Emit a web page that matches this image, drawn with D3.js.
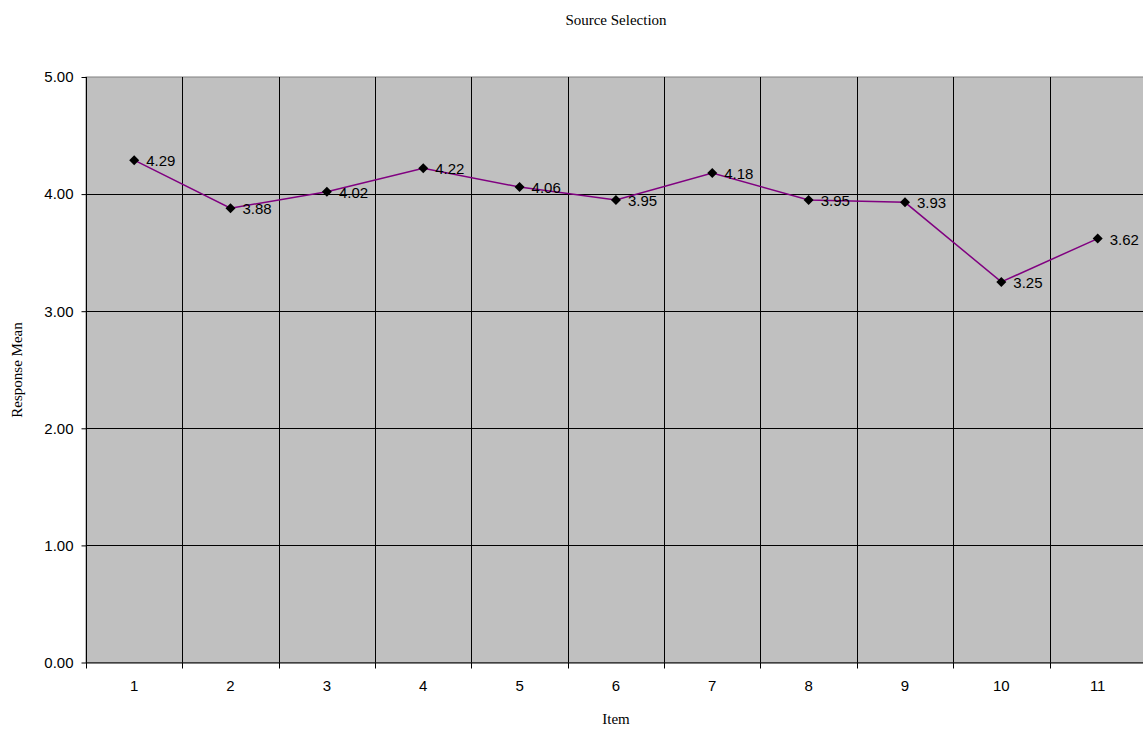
<!DOCTYPE html>
<html>
<head>
<meta charset="utf-8">
<script src="https://cdn.jsdelivr.net/npm/d3@7"></script>
<style>
  html, body { margin: 0; padding: 0; background: #fff; }
  svg { display: block; }
</style>
</head>
<body>
<svg id="chart" width="1143" height="733"></svg>
<script>
const items = ["1","2","3","4","5","6","7","8","9","10","11"];
const means = [4.29, 3.88, 4.02, 4.22, 4.06, 3.95, 4.18, 3.95, 3.93, 3.25, 3.62];
const yTicks = [0, 1, 2, 3, 4, 5];
const chartTitle = "Source Selection";
const xTitle = "Item";
const yTitle = "Response Mean";

(function () {
const svg = d3.select("#chart");
const pL = 86, pT = 77, pB = 662.5, bandW = 96.35;
const pR = pL + bandW * items.length;

const x = d3.scaleBand().domain(items).range([pL, pR]).padding(0);
const y = d3.scaleLinear().domain([0, 5]).range([pB, pT]);

// plot background
svg.append("rect")
  .attr("x", pL).attr("y", pT)
  .attr("width", pR - pL).attr("height", pB - pT)
  .attr("fill", "#c0c0c0")
  .attr("stroke", "#808080").attr("stroke-width", 1);

// horizontal gridlines
svg.append("g").selectAll("line").data(yTicks.filter(d => d > 0 && d < 5)).join("line")
  .attr("x1", pL).attr("x2", pR)
  .attr("y1", d => Math.round(y(d)) + 0.5).attr("y2", d => Math.round(y(d)) + 0.5)
  .attr("stroke", "#000").attr("stroke-width", 1);

// vertical gridlines at category boundaries
svg.append("g").selectAll("line").data(items.slice(1)).join("line")
  .attr("x1", d => Math.round(x(d)) + 0.5).attr("x2", d => Math.round(x(d)) + 0.5)
  .attr("y1", pT).attr("y2", pB)
  .attr("stroke", "#000").attr("stroke-width", 1);

// y axis
const yAxis = d3.axisLeft(y).tickValues(yTicks).tickFormat(d3.format(".2f")).tickSize(5).tickPadding(8);
const gy = svg.append("g").attr("transform", `translate(${pL + 0.5},0)`).call(yAxis);
gy.select(".domain").attr("stroke", "#000").attr("d", `M0,${pT}V${pB}`);
gy.selectAll(".tick line").attr("stroke", "#000");
gy.selectAll(".tick text").attr("font-family", "Arial, 'Liberation Sans', sans-serif").attr("font-size", 15).attr("fill", "#000");

// x axis (ticks at category boundaries)
const gx = svg.append("g").attr("transform", `translate(0,${pB})`);
gx.append("line").attr("x1", pL).attr("x2", pR).attr("y1", 0.5).attr("y2", 0.5).attr("stroke", "#000");
gx.selectAll("line.tk").data(items).join("line").attr("class", "tk")
  .attr("x1", d => Math.round(x(d)) + 0.5).attr("x2", d => Math.round(x(d)) + 0.5)
  .attr("y1", 0).attr("y2", 6).attr("stroke", "#000");
gx.selectAll("text").data(items).join("text")
  .attr("x", d => x(d) + x.bandwidth() / 2)
  .attr("y", 28)
  .attr("text-anchor", "middle")
  .attr("font-family", "Arial, 'Liberation Sans', sans-serif").attr("font-size", 15)
  .text(d => d);

// line
const line = d3.line().x((d, i) => x(items[i]) + x.bandwidth() / 2).y(d => y(d));
svg.append("path").datum(means)
  .attr("d", line).attr("fill", "none")
  .attr("stroke", "#800080").attr("stroke-width", 1.5);

// markers
svg.append("g").selectAll("path").data(means).join("path")
  .attr("transform", (d, i) => `translate(${x(items[i]) + x.bandwidth() / 2},${y(d)})`)
  .attr("d", "M0,-5L5,0L0,5L-5,0Z")
  .attr("fill", "#000");

// data labels
svg.append("g").selectAll("text").data(means).join("text")
  .attr("x", (d, i) => x(items[i]) + x.bandwidth() / 2 + 12)
  .attr("y", d => y(d) + 6)
  .attr("font-family", "Arial, 'Liberation Sans', sans-serif").attr("font-size", 15)
  .attr("fill", "#000")
  .text(d => d.toFixed(2));

// titles
svg.append("text").attr("x", 616).attr("y", 25).attr("text-anchor", "middle")
  .attr("font-family", "'Times New Roman', 'Liberation Serif', serif").attr("font-size", 15)
  .text(chartTitle);
svg.append("text").attr("x", 616).attr("y", 724).attr("text-anchor", "middle")
  .attr("font-family", "'Times New Roman', 'Liberation Serif', serif").attr("font-size", 15)
  .text(xTitle);
svg.append("text").attr("transform", "translate(22,370) rotate(-90)").attr("text-anchor", "middle")
  .attr("font-family", "'Times New Roman', 'Liberation Serif', serif").attr("font-size", 15)
  .text(yTitle);
})();
</script>
</body>
</html>
